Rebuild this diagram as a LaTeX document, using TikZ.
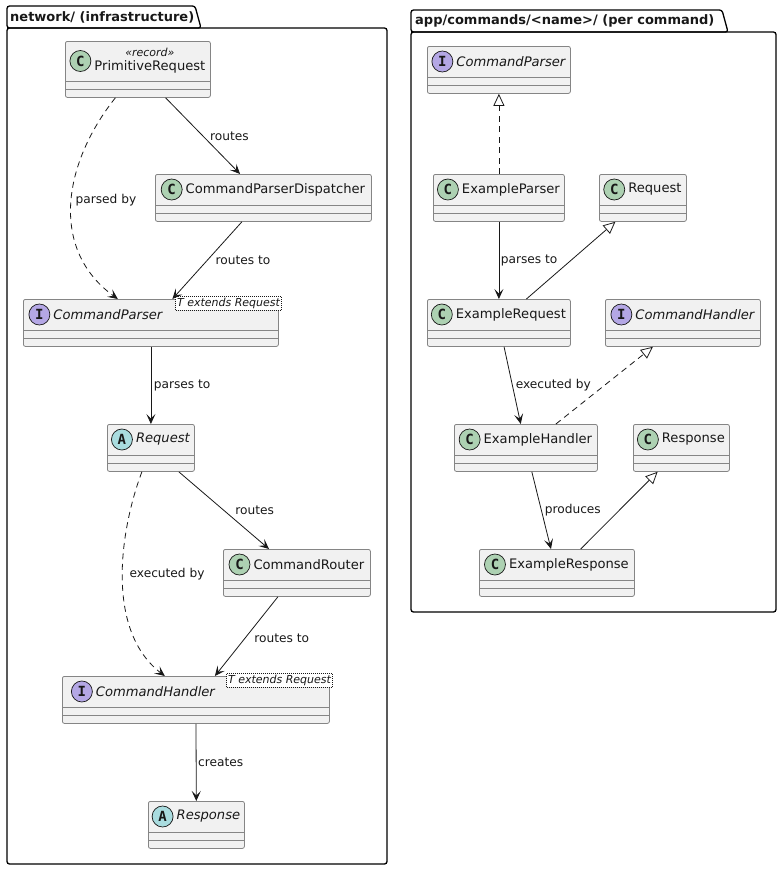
\documentclass[tikz,border=0pt]{standalone}
\usepackage{fontspec}
\setmainfont{DejaVu Sans}
\newfontfamily\stampfont{DejaVu Sans Mono}
\usetikzlibrary{arrows.meta,calc,positioning}
\definecolor{cInk}{HTML}{181818}
\definecolor{cBox}{HTML}{F1F1F1}
\definecolor{cEdge}{HTML}{858585}
\definecolor{cCls}{HTML}{ADD1B2}
\definecolor{cIfc}{HTML}{B4A7E5}
\definecolor{cAbs}{HTML}{A9DCDF}
\tikzset{
  every node/.style={text=cInk},
  clsbox/.style={draw=cEdge, fill=cBox, rounded corners=2pt, inner sep=0pt, line width=0.8pt},
  cmpline/.style={draw=cEdge, line width=0.8pt},
  clsname/.style={inner sep=0pt, align=center, font=\fontsize{13.1}{15}\selectfont},
  stampc/.style={circle, draw=cInk, line width=0.7pt, minimum size=21pt, inner sep=0pt, font=\stampfont\bfseries\fontsize{14}{14}\selectfont},
  gen/.style={draw=cInk, dash pattern=on 1pt off 1pt, fill=white, inner sep=1.5pt, line width=0.6pt, font=\itshape\fontsize{11}{12}\selectfont},
  lbl/.style={anchor=west, inner sep=0pt, font=\fontsize{12.2}{14}\selectfont},
  arr/.style={-{Stealth[length=10pt,width=9pt,inset=4.5pt]}, draw=cInk, line width=0.8pt},
  darr/.style={arr, dash pattern=on 6pt off 4.5pt},
  ext/.style={-{Triangle[open,length=12pt,width=11pt]}, draw=cInk, line width=0.8pt},
  impl/.style={ext, dash pattern=on 6pt off 4.5pt},
  pkg/.style={draw=black, line width=1.3pt, rounded corners=2.5pt},
  ptitle/.style={anchor=west, inner sep=0pt, font=\bfseries\fontsize{13}{15}\selectfont},
}
% [name options]{id}{left}{top}{width}{header height}{stamp colour}{stamp letter}{label}
\newcommand{\umlclass}[9][]{%
  \node[clsbox, anchor=north west, minimum width=#5pt, minimum height=#6pt+16pt] (#2) at (#3,#4) {};
  \draw[cmpline] ($(#2.north west)+(0,#6)$) -- ($(#2.north east)+(0,#6)$);
  \draw[cmpline] ($(#2.north west)+(0,#6+8)$) -- ($(#2.north east)+(0,#6+8)$);
  \node[clsname, xshift=12pt, #1] (#2-n) at ($(#2.north)+(0,#6/2)$) {#9};
  \node[stampc, fill=#7, left=3pt of #2-n] (#2-s) {#8};
}

\begin{document}
\begin{tikzpicture}[x=1pt,y=-1pt]
\useasboundingbox (0,0) rectangle (782,871);
% packages
\draw[pkg] (7,28) |- (195,6) -- (201,28) -- cycle;
\draw[pkg] (7,28) rectangle (387,864);
\node[ptitle] (pk1) at (10,17) {network/ (infrastructure)};
\draw[pkg] (411,32) |- (722,10) -- (728,32) -- cycle;
\draw[pkg] (411,32) rectangle (776,612);
\node[ptitle] (pk2) at (415,21) {app/commands/<name>/ (per command)};
% infrastructure classes
\umlclass{prq}{65}{41}{145}{40}{cCls}{C}{{\fontsize{11}{12}\selectfont\itshape «record»}\\[-1pt]PrimitiveRequest}
\umlclass{cpd}{155}{174}{216}{31}{cCls}{C}{CommandParserDispatcher}
\umlclass[xshift=-55pt]{cp}{23}{299}{255}{31}{cIfc}{I}{\itshape CommandParser}
\umlclass{req}{107}{424}{87}{31}{cAbs}{A}{\itshape Request}
\umlclass{crt}{223}{549}{147}{31}{cCls}{C}{CommandRouter}
\umlclass[xshift=-52.5pt]{chd}{62}{676}{267}{31}{cIfc}{I}{\itshape CommandHandler}
\umlclass{rsp}{148}{801}{96}{31}{cAbs}{A}{\itshape Response}
\node[gen, anchor=north east] (cp-g) at ($(cp.north east)+(3,-3)$) {T extends Request};
\node[gen, anchor=north east] (chd-g) at ($(chd.north east)+(3,-3)$) {T extends Request};
% per command classes
\umlclass{icp}{427}{46}{143}{31}{cIfc}{I}{\itshape CommandParser}
\umlclass{exp}{433}{174}{131}{31}{cCls}{C}{ExampleParser}
\umlclass{creq}{599}{174}{87}{31}{cCls}{C}{Request}
\umlclass{exr}{427}{299}{143}{31}{cCls}{C}{ExampleRequest}
\umlclass{ichd}{605}{299}{155}{31}{cIfc}{I}{\itshape CommandHandler}
\umlclass{exh}{454}{424}{143}{31}{cCls}{C}{ExampleHandler}
\umlclass{crsp}{633}{424}{96}{31}{cCls}{C}{Response}
\umlclass{exs}{479}{549}{155}{31}{cCls}{C}{ExampleResponse}
% infrastructure links
\draw[arr] (prq) -- node[lbl, xshift=7pt] {routes} (cpd);
\draw[darr] (prq) .. controls (62,165) and (50,250) .. node[lbl, xshift=4pt, yshift=5pt] {parsed by} (cp);
\draw[arr] (cpd) -- node[lbl, xshift=8pt] {routes to} (cp);
\draw[arr] (cp) -- node[lbl, xshift=2.5pt] {parses to} (req);
\draw[arr] (req) -- node[lbl, xshift=11pt] {routes} (crt);
\draw[darr] (req) .. controls (120,530) and (105,630) .. node[lbl, xshift=6.5pt, yshift=4.5pt] {executed by} (chd);
\draw[arr] (crt) -- node[lbl, xshift=7.5pt, yshift=-2pt] {routes to} (chd);
\draw[arr] (chd) -- node[lbl, xshift=1.5pt] {creates} (rsp);
% per command links
\draw[impl] (exp) -- (icp);
\draw[arr] (exp) -- node[lbl, xshift=1.5pt] {parses to} (exr);
\draw[ext] (exr) -- (creq);
\draw[arr] (exr) -- node[lbl, xshift=3pt] {executed by} (exh);
\draw[impl] (exh) -- (ichd);
\draw[arr] (exh) -- node[lbl, xshift=3pt] {produces} (exs);
\draw[ext] (exs) -- (crsp);
\end{tikzpicture}
\end{document}
